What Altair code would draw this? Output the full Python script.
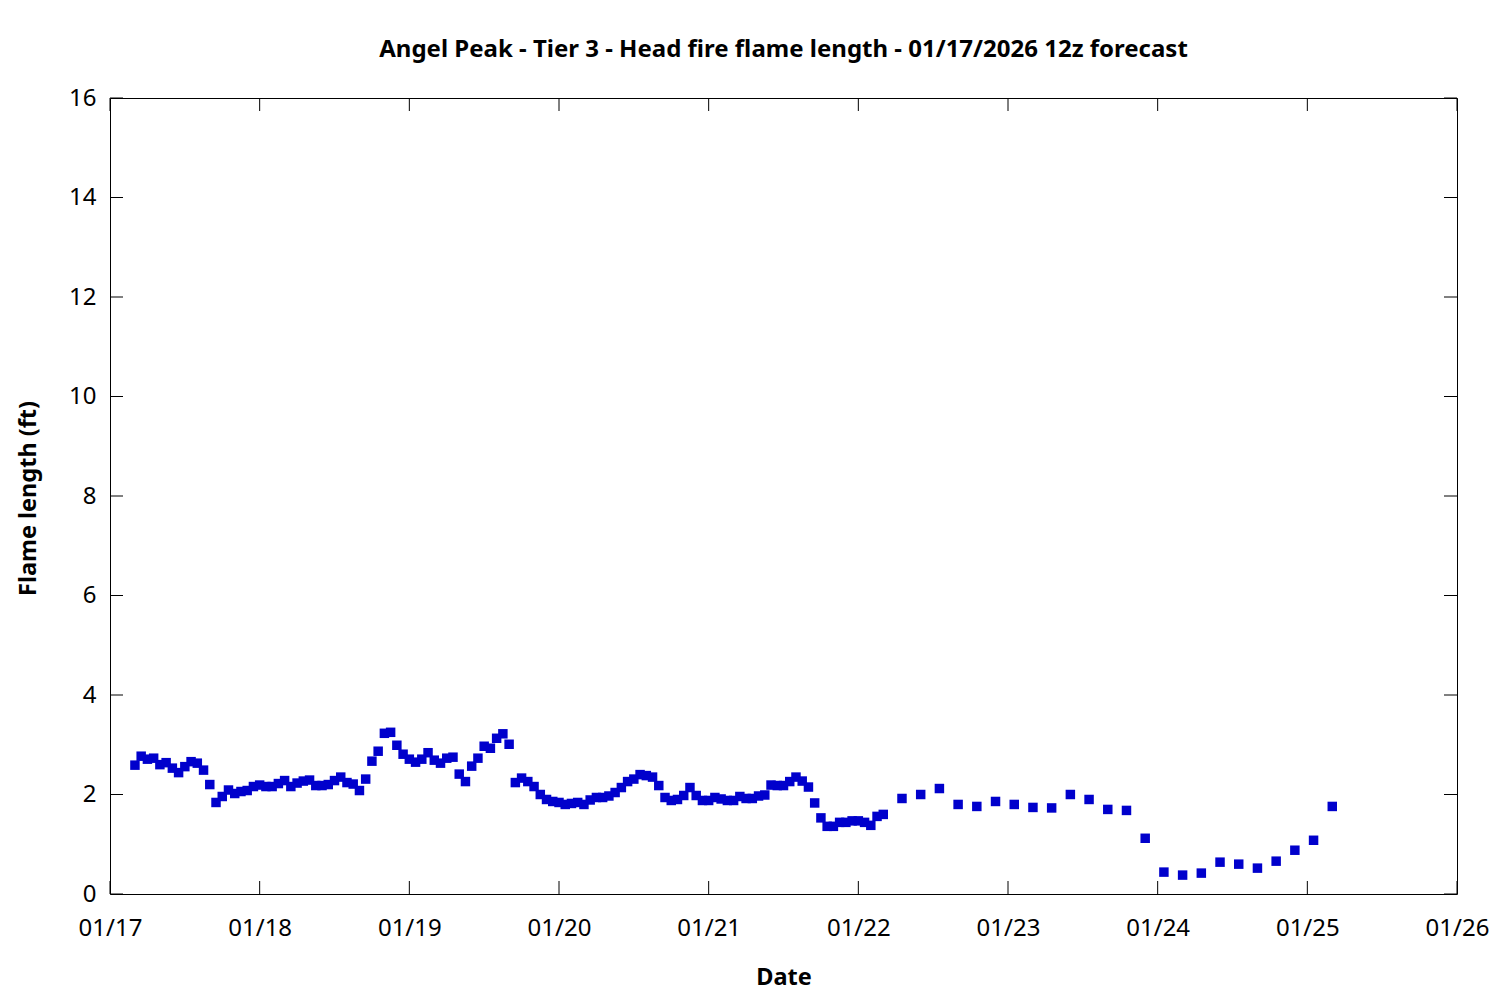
import altair as alt
import pandas as pd

TITLE = "Angel Peak - Tier 3 - Head fire flame length - 01/17/2026 12z forecast"
Y_TITLE = "Flame length (ft)"
X_TITLE = "Date"

# hourly forecast: 2026-01-17 04z .. 2026-01-22 04z (121 values)
hourly_start = "2026-01-17T04:00:00"
hourly_flame = [
    2.59, 2.77, 2.71, 2.73, 2.60, 2.64, 2.53, 2.44, 2.56, 2.66, 2.63, 2.49,
    2.20, 1.84, 1.96, 2.09, 2.02, 2.06, 2.08, 2.16, 2.19, 2.16, 2.16, 2.22,
    2.28, 2.16, 2.23, 2.27, 2.29, 2.18, 2.18, 2.20, 2.28, 2.35, 2.24, 2.21,
    2.08, 2.31, 2.67, 2.87, 3.23, 3.25, 2.99, 2.81, 2.71, 2.65, 2.71, 2.84,
    2.69, 2.63, 2.73, 2.75, 2.41, 2.26, 2.57, 2.73, 2.97, 2.93, 3.13, 3.22,
    3.01, 2.24, 2.33, 2.26, 2.16, 2.00, 1.90, 1.86, 1.84, 1.80, 1.82, 1.84,
    1.80, 1.89, 1.94, 1.94, 1.97, 2.04, 2.14, 2.26, 2.31, 2.40, 2.38, 2.35,
    2.18, 1.94, 1.88, 1.90, 1.98, 2.14, 1.98, 1.88, 1.88, 1.94, 1.91, 1.88,
    1.88, 1.96, 1.92, 1.92, 1.97, 1.99, 2.19, 2.18, 2.18, 2.26, 2.35, 2.27,
    2.15, 1.83, 1.53, 1.36, 1.36, 1.44, 1.44, 1.47, 1.47, 1.44, 1.38, 1.56,
    1.60,
]
# 3-hourly forecast: 2026-01-22 07z .. 2026-01-25 04z (24 values)
three_hourly_start = "2026-01-22T07:00:00"
three_hourly_flame = [
    1.92, 2.00, 2.12, 1.80, 1.76, 1.86, 1.80, 1.74, 1.73, 2.00, 1.90, 1.70,
    1.68, 1.12, 0.44, 0.38, 0.42, 0.64, 0.60, 0.52, 0.66, 0.88, 1.08, 1.76,
]

y_ticks = [0, 2, 4, 6, 8, 10, 12, 14, 16]
x_tick_days = [17, 18, 19, 20, 21, 22, 23, 24, 25, 26]

fmt = "%Y-%m-%dT%H:%M:%SZ"
t_hourly = pd.date_range(hourly_start, periods=len(hourly_flame), freq="h").strftime(fmt)
t_3h = pd.date_range(three_hourly_start, periods=len(three_hourly_flame), freq="3h").strftime(fmt)
df = pd.DataFrame({
    "t": list(t_hourly) + list(t_3h),
    "fl": hourly_flame + three_hourly_flame,
})
df_xt = pd.DataFrame({"t": [f"2026-01-{d:02d}T00:00:00Z" for d in x_tick_days]})
df_yt = pd.DataFrame({"fl": y_ticks})

W, H = 1347, 796
TL = 13
FONT = "Noto Sans"

x_vals = [alt.DateTime(year=2026, month=1, date=d, utc=True) for d in x_tick_days]
x_scale = alt.Scale(type="utc", domain=[x_vals[0], x_vals[-1]])
y_scale = alt.Scale(domain=[0, 16], nice=False)

x_axis = alt.Axis(values=x_vals, format="%m/%d", grid=False, domain=False,
                  ticks=True, tickSize=0, labelFontSize=24, labelFont=FONT,
                  labelColor="black", labelPadding=34, labelBaseline="middle",
                  labelFlush=False, labelOverlap=False,
                  title=X_TITLE, titleFont=FONT, titleFontSize=23.5,
                  titleFontWeight="bold", titleColor="black",
                  titleX=W / 2, titleY=83, titleBaseline="middle")
y_axis = alt.Axis(values=y_ticks, grid=False, domain=False, ticks=True, tickSize=0,
                  labelFontSize=24, labelFont=FONT, labelColor="black",
                  labelPadding=14, labelFlush=False, labelOverlap=False,
                  title=Y_TITLE, titleFont=FONT, titleFontSize=23.5,
                  titleFontWeight="bold", titleColor="black",
                  titleX=-82, titleY=H / 2 + 2, titleAngle=-90,
                  titleBaseline="middle", titleAlign="center")

points = alt.Chart(df).mark_square(size=90, color="#0000cc", opacity=1, strokeWidth=0).encode(
    x=alt.X("t:T", scale=x_scale, axis=x_axis),
    y=alt.Y("fl:Q", scale=y_scale, axis=y_axis),
)

rule_style = dict(color="black", strokeWidth=1)
left_ticks = alt.Chart(df_yt).mark_rule(**rule_style).encode(
    y=alt.Y("fl:Q", scale=y_scale, axis=y_axis), x=alt.value(0), x2=alt.value(TL))
right_ticks = alt.Chart(df_yt).mark_rule(**rule_style).encode(
    y=alt.Y("fl:Q", scale=y_scale, axis=y_axis), x=alt.value(W - TL), x2=alt.value(W))
bottom_ticks = alt.Chart(df_xt).mark_rule(**rule_style).encode(
    x=alt.X("t:T", scale=x_scale, axis=x_axis), y=alt.value(H), y2=alt.value(H - TL))
top_ticks = alt.Chart(df_xt).mark_rule(**rule_style).encode(
    x=alt.X("t:T", scale=x_scale, axis=x_axis), y=alt.value(0), y2=alt.value(TL))

chart = alt.layer(points, left_ticks, right_ticks, bottom_ticks, top_ticks).properties(
    width=W, height=H,
    title=alt.TitleParams(TITLE, font=FONT, fontSize=24, fontWeight="bold", color="black",
                          anchor="middle", baseline="alphabetic", offset=5),
    autosize=alt.AutoSizeParams(type="none"),
    padding={"left": 102, "top": 90, "right": 35, "bottom": 100},
).configure_view(stroke="black", strokeWidth=1)

chart.save("out.html", embed_options={"renderer": "svg", "actions": False})
